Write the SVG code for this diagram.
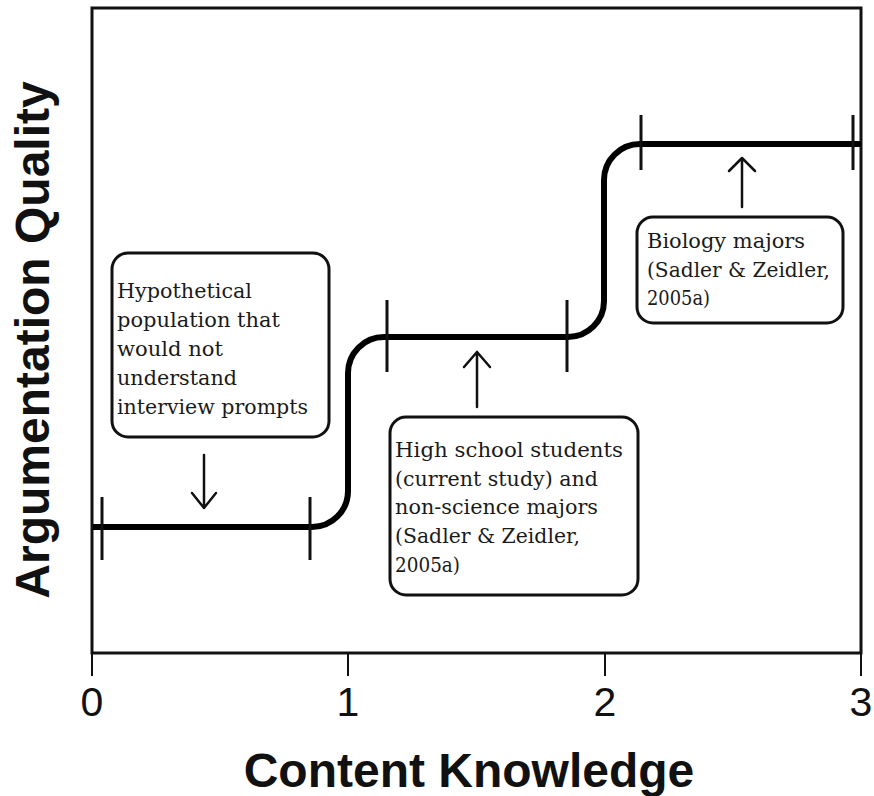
<svg xmlns="http://www.w3.org/2000/svg" width="874" height="796" viewBox="0 0 874 796">
<style>
.frame{fill:none;stroke:#111;stroke-width:3}
.axtick{stroke:#111;stroke-width:2}
.curve{fill:none;stroke:#000;stroke-width:6;stroke-linejoin:round}
.tick{stroke:#111;stroke-width:3}
.box{fill:#fff;stroke:#111;stroke-width:3}
.arrow{fill:none;stroke:#111;stroke-width:2.5;stroke-linecap:round;stroke-linejoin:round}
.lbl{font-family:"DejaVu Serif","Liberation Serif",serif;font-size:20px;fill:#1a1a1a}
.num{font-family:"Liberation Sans",Arial,sans-serif;font-size:41px;fill:#111;text-anchor:middle}
.title{font-family:"Liberation Sans",Arial,sans-serif;font-size:48px;font-weight:bold;fill:#111;text-anchor:middle}
</style>
<rect width="874" height="796" fill="#fff"/>
<g id="axes">
<rect class="frame" x="92" y="8" width="769" height="645"/>
<line class="axtick" x1="92" y1="653" x2="92" y2="676"/>
<line class="axtick" x1="348" y1="653" x2="348" y2="676"/>
<line class="axtick" x1="605" y1="653" x2="605" y2="676"/>
<line class="axtick" x1="861" y1="653" x2="861" y2="676"/>
<text class="num" x="92" y="716">0</text>
<text class="num" x="348" y="716">1</text>
<text class="num" x="605" y="716">2</text>
<text class="num" x="861" y="716">3</text>
<text class="title" x="469" y="787">Content Knowledge</text>
<text class="title" transform="translate(49,340) rotate(-90)" x="0" y="0">Argumentation Quality</text>
</g>
<g id="curve">
<path class="curve" d="M 93 527 H 312 A 36 36 0 0 0 348 491 V 373 A 36 36 0 0 1 384 337 H 568 A 36 36 0 0 0 604 301 V 180 A 36 36 0 0 1 640 144 H 861"/>
<line class="tick" x1="102" y1="497" x2="102" y2="560"/>
<line class="tick" x1="310" y1="497" x2="310" y2="560"/>
<line class="tick" x1="387" y1="300" x2="387" y2="372"/>
<line class="tick" x1="567" y1="300" x2="567" y2="372"/>
<line class="tick" x1="641" y1="115" x2="641" y2="170"/>
<line class="tick" x1="853" y1="115" x2="853" y2="170"/>
</g>
<g id="box1">
<rect class="box" x="112" y="253" width="217" height="184" rx="16"/>
<text class="lbl" x="117" y="298" textLength="135" lengthAdjust="spacingAndGlyphs">Hypothetical</text>
<text class="lbl" x="117" y="327" textLength="163" lengthAdjust="spacingAndGlyphs">population that</text>
<text class="lbl" x="117" y="356" textLength="106" lengthAdjust="spacingAndGlyphs">would not</text>
<text class="lbl" x="117" y="385" textLength="120" lengthAdjust="spacingAndGlyphs">understand</text>
<text class="lbl" x="117" y="414" textLength="191" lengthAdjust="spacingAndGlyphs">interview prompts</text>
</g>
<g id="box2">
<rect class="box" x="390" y="417" width="248" height="178" rx="16"/>
<text class="lbl" x="395" y="457" textLength="228" lengthAdjust="spacingAndGlyphs">High school students</text>
<text class="lbl" x="395" y="486" textLength="203" lengthAdjust="spacingAndGlyphs">(current study) and</text>
<text class="lbl" x="395" y="514" textLength="203" lengthAdjust="spacingAndGlyphs">non-science majors</text>
<text class="lbl" x="395" y="543" textLength="185" lengthAdjust="spacingAndGlyphs">(Sadler &amp; Zeidler,</text>
<text class="lbl" x="395" y="572" textLength="65" lengthAdjust="spacingAndGlyphs">2005a)</text>
</g>
<g id="box3">
<rect class="box" x="637" y="217" width="206" height="106" rx="16"/>
<text class="lbl" x="647" y="248" textLength="158" lengthAdjust="spacingAndGlyphs">Biology majors</text>
<text class="lbl" x="647" y="277" textLength="183" lengthAdjust="spacingAndGlyphs">(Sadler &amp; Zeidler,</text>
<text class="lbl" x="647" y="305" textLength="63" lengthAdjust="spacingAndGlyphs">2005a)</text>
</g>
<g id="connectors">
<path class="arrow" d="M 204 455 V 508 M 192 493 L 204 508 L 216 493"/>
<path class="arrow" d="M 477 407 V 352 M 464 367 L 477 352 L 490 367"/>
<path class="arrow" d="M 742 207 V 158 M 729 171 L 742 158 L 755 171"/>
</g>
</svg>
